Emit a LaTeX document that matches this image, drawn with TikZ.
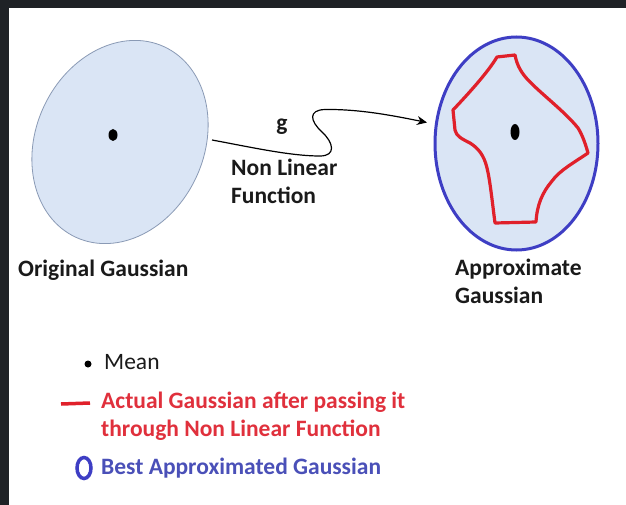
\documentclass[tikz,border=0pt]{standalone}
\usepackage{fontspec}
\setmainfont{Carlito}
\usetikzlibrary{shapes.geometric,arrows.meta}
\definecolor{frame}{HTML}{1F2226}
\definecolor{fillblue}{HTML}{DAE5F5}
\definecolor{edgegray}{HTML}{8A9AB5}
\definecolor{ringblue}{HTML}{3E3EC4}
\definecolor{curvered}{HTML}{E0202A}
\definecolor{txtred}{HTML}{E0303C}
\definecolor{txtblue}{HTML}{4A50B8}
\definecolor{txtdark}{HTML}{1A1A1A}
\tikzset{
  lbl/.style={font=\fontsize{23.5}{28}\selectfont\bfseries, text=txtdark, inner sep=0pt, align=left, anchor=west},
  meandot/.style={fill=black, draw=none},
}
\begin{document}
\begin{tikzpicture}[x=1pt,y=-1pt]
\useasboundingbox (0,0) rectangle (626,505);
\fill[frame] (0,0) rectangle (626,505);
\fill[white] (9,8) rectangle (626,505);

% original gaussian
\node[ellipse, draw=edgegray, fill=fillblue, line width=0.8pt, minimum width=168pt, minimum height=210pt, inner sep=0pt, rotate=-25] (orig) at (120,142) {};
\node[meandot, ellipse, minimum width=9pt, minimum height=12pt, inner sep=0pt] (m1) at (113,135) {};
\node[lbl] (origlbl) at (18,270) {Original Gaussian};

% approximate gaussian
\node[ellipse, draw=ringblue, fill=fillblue, line width=3pt, minimum width=163pt, minimum height=213pt, inner sep=0pt] (approx) at (516.5,143.5) {};
\draw[curvered, line width=3.2pt, line join=round]
  (497,57) -- (515,55) .. controls (517,66) and (522,74) .. (530,82)
  .. controls (545,97) and (565,112) .. (578,128)
  .. controls (583,136) and (586,146) .. (588,153)
  .. controls (575,162) and (560,170) .. (552,181)
  .. controls (542,193) and (537,205) .. (536,222)
  -- (495,223)
  .. controls (492,200) and (490,180) .. (487,168)
  .. controls (484,155) and (478,148) .. (470,143)
  .. controls (462,139) and (456,136) .. (455,130)
  -- (453,110)
  .. controls (470,92) and (488,72) .. (497,57) -- cycle;
\node[meandot, ellipse, minimum width=9pt, minimum height=16pt, inner sep=0pt] (m2) at (515,132) {};
\node[lbl] (approxlbl) at (455,281) {Approximate\\Gaussian};

% non linear function arrow
\coordinate (s) at (212,140);
\coordinate (t) at (427,122.5);
\draw[line width=1.2pt, -{Stealth[length=10pt,width=9pt]}]
  (s) .. controls (250,147) and (290,156) .. (320,156)
  .. controls (336,156) and (334,143) .. (322,132)
  .. controls (310,121) and (308,110) .. (325,109.5)
  .. controls (360,109) and (395,116) .. (t);
\node[lbl, anchor=center] (g) at (282,127) {g};
\node[lbl] (nlf) at (231,181) {Non Linear\\Function};

% legend
\node[fill=black, circle, minimum size=7pt, inner sep=0pt] (lgdot) at (88,364) {};
\node[lbl, font=\fontsize{23.5}{28}\selectfont, text=txtdark] (lgmean) at (104,362) {Mean};
\coordinate (r1) at (61,404);
\coordinate (r2) at (90,403);
\draw[curvered, line width=3.5pt] (r1) -- (r2);
\node[lbl, text=txtred] (lgred) at (101,416) {Actual Gaussian after passing it\\through Non Linear Function};
\node[draw=ringblue, line width=3.5pt, ellipse, minimum width=14pt, minimum height=21pt, inner sep=0pt] (lgring) at (84,468) {};
\node[lbl, text=txtblue] (lgblue) at (101,468) {Best Approximated Gaussian};
\end{tikzpicture}
\end{document}
